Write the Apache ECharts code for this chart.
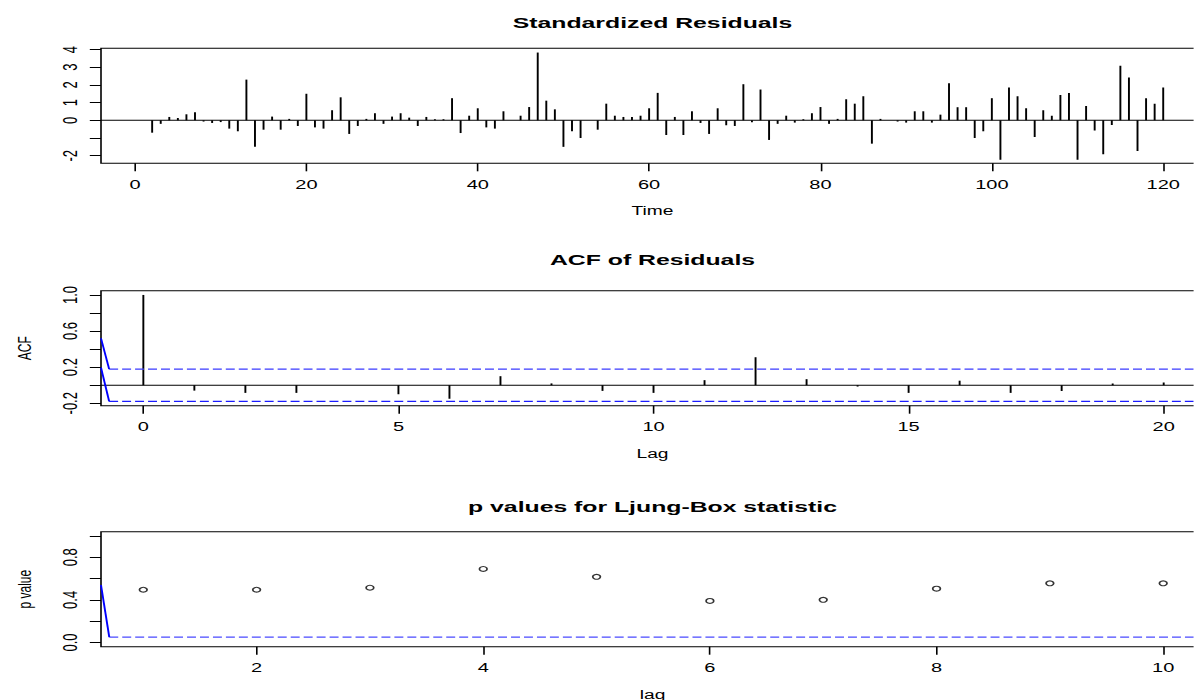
<!DOCTYPE html>
<html>
<head>
<meta charset="utf-8">
<script src="https://cdn.jsdelivr.net/npm/echarts@6/dist/echarts.min.js"></script>
<style>
html,body{margin:0;padding:0;background:#fff;overflow:hidden;width:1194px;height:700px;}
#chart{position:absolute;left:0;top:0;height:700px;transform-origin:0 0;}
</style>
</head>
<body>
<div id="chart"></div>
<script>
// ---------- data ----------
const residuals = [
  0, -0.70, -0.20, 0.19, 0.13, 0.34, 0.45, -0.07, -0.15, -0.10,
  -0.47, -0.62, 2.30, -1.50, -0.53, 0.21, -0.53, 0.08, -0.32, 1.50,
  -0.40, -0.47, 0.57, 1.30, -0.77, -0.32, 0.08, 0.40, -0.20, 0.21,
  0.40, 0.15, -0.32, 0.19, 0.06, 0.06, 1.25, -0.72, 0.26, 0.68,
  -0.40, -0.47, 0.51, 0, 0.26, 0.75, 3.83, 1.11, 0.62, -1.50,
  -0.62, -1.00, 0, -0.53, 0.94, 0.26, 0.19, 0.19, 0.26, 0.68,
  1.55, -0.83, 0.19, -0.83, 0.51, -0.15, -0.77, 0.68, -0.28, -0.32,
  2.04, -0.11, 1.74, -1.11, -0.20, 0.26, -0.13, 0.06, 0.40, 0.75,
  -0.20, 0.08, 1.19, 0.94, 1.36, -1.32, 0.08, 0, -0.07, -0.13,
  0.51, 0.51, -0.13, 0.32, 2.09, 0.74, 0.74, -1.00, -0.62, 1.25,
  -2.23, 1.85, 1.36, 0.68, -0.94, 0.57, 0.26, 1.43, 1.55, -2.23,
  0.81, -0.58, -1.92, -0.26, 3.09, 2.42, -1.74, 1.25, 0.94, 1.85
];
const timeIndex = residuals.map((_, i) => i + 1);

const acfLags = [0,1,2,3,4,5,6,7,8,9,10,11,12,13,14,15,16,17,18,19,20];
const acfValues = [1.0, -0.06, -0.085, -0.085, 0.0, -0.10, -0.15, 0.10, 0.02, -0.063,
  -0.085, 0.056, 0.31, 0.067, -0.015, -0.085, 0.05, -0.085, -0.063, 0.02, 0.03];
const acfBound = 0.179;

const lbLags = [1,2,3,4,5,6,7,8,9,10];
const lbPValues = [0.495, 0.495, 0.514, 0.69, 0.616, 0.39, 0.40, 0.505, 0.555, 0.555];
const lbLevel = 0.05;

// odd blue strokes at the left edge of the lower two panels (as drawn in the source)
const acfBlueUpper = [[-0.83, 0.52], [-0.67, 0.179]];
const acfBlueLower = [[-0.83, 0.195], [-0.67, -0.179]];
const acfDashStart = -0.67;
const lbBlue = [[0.627, 0.54], [0.70, 0.05]];
const lbDashStart = 0.70;

// ticks / labels
const timeTicks = [0, 20, 40, 60, 80, 100, 120];
const residTicks = [-2, -1, 0, 1, 2, 3, 4];
const residLabels = [-2, 0, 1, 2, 3, 4];
const acfXTicks = [0, 5, 10, 15, 20];
const acfYTicks = [-0.2, 0, 0.2, 0.4, 0.6, 0.8, 1.0];
const acfYLabels = [-0.2, 0.2, 0.6, 1.0];
const lbXTicks = [2, 4, 6, 8, 10];
const lbYTicks = [0, 0.2, 0.4, 0.6, 0.8, 1.0];
const lbYLabels = [0, 0.4, 0.8];

// ---------- layout (the source picture is stretched horizontally) ----------
const S = 1.6;
const W = 1194 / S;
const el = document.getElementById('chart');
el.style.width = W + 'px';
el.style.transform = 'scaleX(' + S + ')';

const FF = "'Liberation Sans', Arial, Helvetica, sans-serif";
const gLeft = 101 / S, gWidth = (1204 - 101) / S, gH = 115;
const tops = [48.3, 290.7, 531.7];
const xr = [[-3.97, 124.76], [-0.83, 20.79], [0.627, 10.36]];
const yr = [[-2.43, 4.07], [-0.227, 1.047], [-0.04, 1.04]];

const txt = {color: '#000', fontFamily: FF, fontSize: 12};
const ytxt = {color: '#000', fontFamily: FF, fontSize: 13};

function xAxis(i, ticks, name, fmt) {
  return {
    gridIndex: i, type: 'value', min: xr[i][0], max: xr[i][1],
    axisLine: {show: false, onZero: false}, splitLine: {show: false},
    axisTick: {show: true, customValues: ticks, length: 8, lineStyle: {color: '#000', width: 1}},
    axisLabel: Object.assign({customValues: ticks, margin: 15, formatter: fmt, hideOverlap: false}, txt, {fontSize: 12.5}),
    name: name, nameLocation: 'middle', nameGap: 42, nameTextStyle: txt
  };
}
function yAxis(i, ticks, labels, name, fmt) {
  return {
    gridIndex: i, type: 'value', min: yr[i][0], max: yr[i][1],
    axisLine: {show: false, onZero: false}, splitLine: {show: false},
    axisTick: {show: true, customValues: ticks, length: 7, lineStyle: {color: '#000', width: 1}},
    axisLabel: Object.assign({customValues: labels, margin: 13, rotate: 90, formatter: fmt, hideOverlap: false}, ytxt),
    name: name, nameLocation: 'middle', nameGap: 42, nameTextStyle: txt
  };
}
const intFmt = v => String(Math.round(v));
const decFmt = v => (Math.abs(v) < 1e-9 ? 0 : v).toFixed(1);

function hLines(i, data) {
  return {
    type: 'custom', xAxisIndex: i, yAxisIndex: i, silent: true,
    data: data,
    renderItem: function (params, api) {
      const p0 = api.coord([api.value(0), 0]);
      const p1 = api.coord([api.value(0), api.value(1)]);
      return {type: 'line', shape: {x1: p0[0], y1: p0[1], x2: p1[0], y2: p1[1]},
              style: {stroke: '#000', lineWidth: 1.2}};
    }
  };
}
function seg(i, data, color, dash, width) {
  return {
    type: 'line', xAxisIndex: i, yAxisIndex: i, data: data, silent: true,
    symbol: 'none', showSymbol: false,
    lineStyle: {color: color, width: width || 1, type: dash ? [5.6, 2.5] : 'solid'}
  };
}

const titleStyle = {color: '#000', fontFamily: FF, fontSize: 15.5, fontWeight: 'bold'};
const tCenter = (101 + 1204) / 2 / S;

const option = {
  animation: false,
  backgroundColor: '#fff',
  title: [
    {text: 'Standardized Residuals', left: tCenter, top: 14, textAlign: 'center', padding: 0, textStyle: titleStyle},
    {text: 'ACF of Residuals', left: tCenter, top: 251, textAlign: 'center', padding: 0, textStyle: titleStyle},
    {text: 'p values for Ljung-Box statistic', left: tCenter, top: 498, textAlign: 'center', padding: 0, textStyle: titleStyle}
  ],
  grid: tops.map(t => ({left: gLeft, width: gWidth, top: t, height: gH, show: true,
    outerBoundsMode: 'none', containLabel: false,
    borderColor: '#000', borderWidth: 1, backgroundColor: 'transparent'})),
  xAxis: [
    xAxis(0, timeTicks, 'Time', intFmt),
    xAxis(1, acfXTicks, 'Lag', intFmt),
    xAxis(2, lbXTicks, 'lag', intFmt)
  ],
  yAxis: [
    yAxis(0, residTicks, residLabels, '', intFmt),
    yAxis(1, acfYTicks, acfYLabels, 'ACF', decFmt),
    yAxis(2, lbYTicks, lbYLabels, 'p value', decFmt)
  ],
  series: [
    // panel 1
    seg(0, [[xr[0][0], 0], [xr[0][1], 0]], '#000', false, 1),
    hLines(0, timeIndex.map((t, k) => [t, residuals[k]])),
    // panel 2
    seg(1, [[xr[1][0], 0], [xr[1][1], 0]], '#000', false, 1),
    seg(1, [[acfDashStart, acfBound], [xr[1][1], acfBound]], '#3a3aff', true, 1.3),
    seg(1, [[acfDashStart, -acfBound], [xr[1][1], -acfBound]], '#1a1aff', true, 1.3),
    seg(1, acfBlueUpper, '#0000ff', false, 1.2),
    seg(1, acfBlueLower, '#0000ff', false, 1.2),
    hLines(1, acfLags.map((l, k) => [l, acfValues[k]])),
    // panel 3
    seg(2, [[lbDashStart, lbLevel], [xr[2][1], lbLevel]], '#4a4aff', true, 1.3),
    seg(2, lbBlue, '#0000ff', false, 1.2),
    {
      type: 'scatter', xAxisIndex: 2, yAxisIndex: 2, silent: true,
      data: lbLags.map((l, k) => [l, lbPValues[k]]),
      symbol: 'circle', symbolSize: 4.8,
      itemStyle: {color: '#fff', borderColor: '#000', borderWidth: 1.1}
    }
  ]
};

const chart = echarts.init(el, null, {renderer: 'svg', width: W, height: 700});
chart.setOption(option);
</script>
</body>
</html>
